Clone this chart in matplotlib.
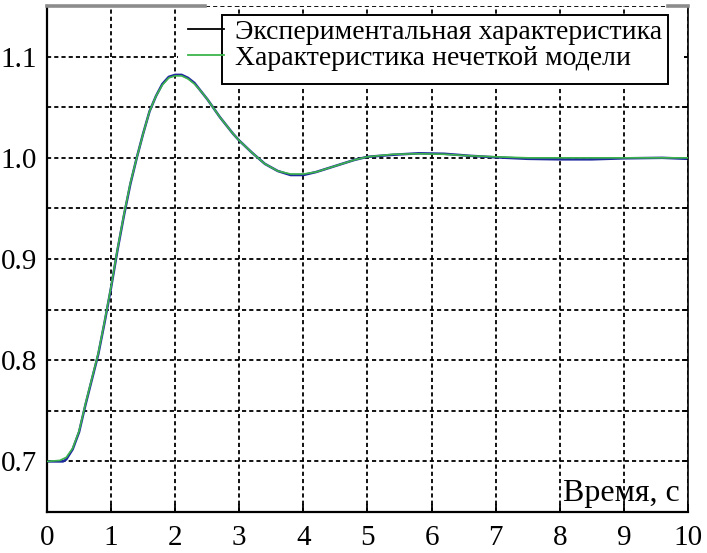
import matplotlib
matplotlib.use("Agg")
from matplotlib import pyplot as plt
from matplotlib.lines import Line2D
from matplotlib.patches import Rectangle

# time axis, seconds
t_model = [0.0, 0.2, 0.3, 0.4, 0.5, 0.6, 0.7, 0.8, 0.9, 1.0, 1.1, 1.2, 1.3,
           1.4, 1.5, 1.6, 1.7, 1.8, 1.9, 2.0, 2.1, 2.2, 2.3, 2.4, 2.5, 2.6,
           2.7, 2.8, 2.9, 3.0, 3.2, 3.4, 3.6, 3.8, 4.0, 4.2, 4.4, 4.6, 4.8,
           5.0, 5.4, 5.8, 6.2, 6.6, 7.0, 7.5, 8.0, 8.5, 9.0, 10.0]
y_model = [0.700, 0.701, 0.704, 0.713, 0.730, 0.757, 0.782, 0.807, 0.839,
           0.873, 0.910, 0.944, 0.975, 1.000, 1.024, 1.046, 1.061, 1.072,
           1.079, 1.081, 1.081, 1.078, 1.073, 1.066, 1.058, 1.049, 1.040,
           1.032, 1.024, 1.017, 1.005, 0.994, 0.987, 0.984, 0.984, 0.986,
           0.990, 0.994, 0.998, 1.001, 1.0035, 1.004, 1.0035, 1.002, 1.001,
           1.000, 1.000, 1.000, 1.000, 1.000]

t_exp = [0.0, 0.25, 0.3, 0.4, 0.5, 0.6, 0.7, 0.8, 0.9, 1.0, 1.1, 1.2, 1.3,
         1.4, 1.5, 1.6, 1.7, 1.8, 1.9, 2.0, 2.1, 2.2, 2.3, 2.4, 2.5, 2.6,
         2.7, 2.8, 2.9, 3.0, 3.2, 3.4, 3.6, 3.8, 4.0, 4.2, 4.4, 4.6, 4.8,
         5.0, 5.4, 5.8, 6.2, 6.6, 7.0, 7.5, 8.0, 8.5, 9.0, 9.6, 10.0]
y_exp = [0.700, 0.700, 0.702, 0.712, 0.729, 0.756, 0.781, 0.806, 0.838,
         0.872, 0.909, 0.943, 0.974, 1.000, 1.024, 1.046, 1.061, 1.073,
         1.080, 1.082, 1.082, 1.079, 1.074, 1.066, 1.058, 1.049, 1.040,
         1.032, 1.024, 1.017, 1.005, 0.994, 0.987, 0.983, 0.983, 0.986,
         0.990, 0.994, 0.998, 1.001, 1.003, 1.0045, 1.004, 1.002, 1.0005,
         0.999, 0.9985, 0.9985, 0.9995, 1.000, 0.999]

x_ticks = [0, 1, 2, 3, 4, 5, 6, 7, 8, 9, 10]
y_ticks = [0.7, 0.8, 0.9, 1.0, 1.1]
y_grid = [0.7, 0.75, 0.8, 0.85, 0.9, 0.95, 1.0, 1.05, 1.1, 1.15]

labels = ["Экспериментальная характеристика", "Характеристика нечеткой модели"]
x_label = "Время, с"

EXP_COLOR = "#1f2a9e"
MODEL_COLOR = "#3cb44b"

plt.rcParams["font.family"] = ["Liberation Serif", "DejaVu Serif"]
plt.rcParams["xtick.labelsize"] = 21
plt.rcParams["ytick.labelsize"] = 21


def display():
    fig = plt.figure(figsize=(7.07, 5.53), dpi=100)
    ax = fig.add_axes([0.0665, 0.0741, 0.9065, 0.915])

    ax.set_xlim(0, 10)
    ax.set_ylim(0.65, 1.15)
    ax.set_axisbelow(True)

    ax.set_xticks(x_ticks)
    ax.set_xticklabels([str(v) for v in x_ticks])
    ax.set_yticks(y_grid)
    ax.set_yticklabels(["%.1f" % v if any(abs(v - k) < 1e-9 for k in y_ticks)
                        else "" for v in y_grid])

    ax.grid(True, axis="both", color="black", linewidth=1.3,
            linestyle=(0, (2.3, 1.7)))

    ax.tick_params(axis="x", direction="in", length=6, width=1.3, pad=9,
                   top=False, bottom=True)
    ax.tick_params(axis="y", direction="in", length=4, width=1.3, pad=7,
                   left=False, right=True, labelleft=True)

    for side in ("left", "bottom", "right"):
        ax.spines[side].set_color("black")
        ax.spines[side].set_linewidth(1.6)
    ax.spines["right"].set_linewidth(1.2)
    ax.spines["top"].set_visible(False)
    # partly visible grey top edge, as in the original
    ax.plot([0, 0.247], [1, 1], transform=ax.transAxes, color="#8c8c8c",
            lw=2.6, clip_on=False, zorder=4)
    ax.plot([0.969, 1], [1, 1], transform=ax.transAxes, color="#8c8c8c",
            lw=2.6, clip_on=False, zorder=4)

    # white area behind the legend
    ax.add_patch(Rectangle((0.204, 0.842), 0.79, 0.091, transform=ax.transAxes,
                           facecolor="white", edgecolor="none", zorder=1))
    ax.add_patch(Rectangle((0.273, 0.846), 0.696, 0.136, transform=ax.transAxes,
                           facecolor="white", edgecolor="black", lw=1.4,
                           zorder=3))

    ax.plot(t_exp, y_exp, color=EXP_COLOR, lw=1.8, zorder=2.5)
    ax.plot(t_model, y_model, color=MODEL_COLOR, lw=1.2, zorder=2.6)

    handles = [Line2D([], [], color="black", lw=1.3),
               Line2D([], [], color=MODEL_COLOR, lw=1.3)]
    leg = ax.legend(handles, labels, loc="upper left",
                    bbox_to_anchor=(0.22, 0.974), frameon=False,
                    prop={"size": 20},
                    handlelength=1.3, handletextpad=0.4, borderpad=0,
                    borderaxespad=0, labelspacing=0.02)
    leg.set_zorder(5)

    ax.text(0.9875, 0.0375, x_label, transform=ax.transAxes, ha="right",
            va="center", fontsize=23, zorder=5)

    fig.savefig("out.png", dpi=100)


if __name__ == "__main__":
    display()
